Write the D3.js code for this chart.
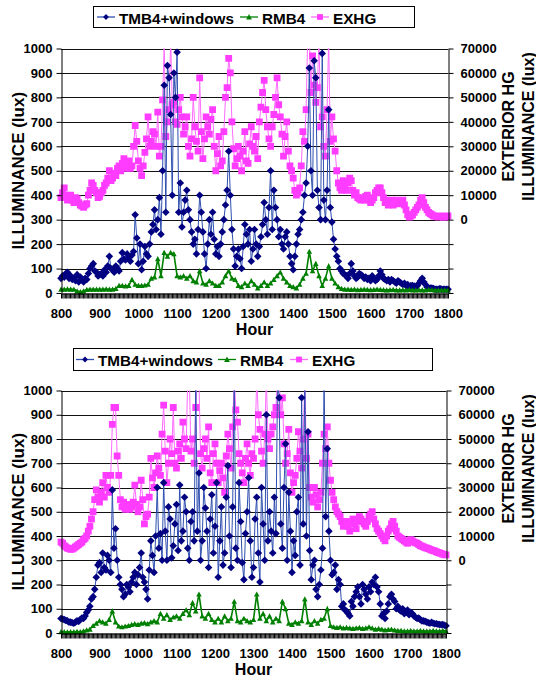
<!DOCTYPE html>
<html><head><meta charset="utf-8">
<script src="https://cdn.jsdelivr.net/npm/d3@7"></script>
<style>
body{margin:0;background:#fff}
svg{display:block;font-family:"Liberation Sans",Arial,sans-serif;font-weight:bold}
</style>
</head><body><svg id="c" width="536" height="677"></svg>
<script>
// ---------- DATA ----------
const fineMinutes = d3.range(0, 600.1, 2.5);   // minutes after 8:00 (TMB4, EXHG samples)
const coarseMinutes = d3.range(0, 600.1, 5);   // minutes after 8:00 (RMB4 samples)
const hourTicks = [800,900,1000,1100,1200,1300,1400,1500,1600,1700,1800];
const leftTicks = [0,100,200,300,400,500,600,700,800,900,1000];
const rightTicks = [-30000,-20000,-10000,0,10000,20000,30000,40000,50000,60000,70000];
const seriesNames = ["TMB4+windows","RMB4","EXHG"];

// top chart
const tmb4Top = [60,70,65,80,85,60,70,55,60,50,75,45,65,55,45,60,55,80,100,110,
 120,90,85,70,75,80,70,95,85,110,150,100,95,85,110,100,90,130,165,140,
 135,160,145,130,155,170,320,225,120,200,95,130,190,160,150,200,250,280,340,260,
 300,390,240,500,850,330,930,880,730,400,900,800,985,330,450,270,330,380,420,340,
 300,250,200,220,160,260,400,330,250,160,100,200,300,240,330,220,160,190,150,200,
 250,300,360,420,580,400,260,180,110,150,180,140,100,190,280,240,200,260,130,180,
 260,200,150,190,230,280,370,300,240,350,500,260,420,350,300,230,260,200,180,230,
 250,200,150,120,95,150,200,240,260,300,330,400,450,600,920,500,400,950,880,420,
 350,300,980,380,300,420,750,350,290,220,180,150,130,100,90,80,75,70,60,80,
 120,90,70,60,65,80,75,70,60,65,55,60,50,70,60,50,55,70,90,75,
 60,55,50,55,45,55,50,45,40,50,45,40,35,40,30,35,25,30,30,28,
 25,30,40,50,60,45,35,25,20,20,20,18,15,15,15,18,15,15,15,15,15];
const rmb4Top = [15,15,16,15,15,8,5,8,14,15,
 15,15,15,15,16,15,15,18,30,30,
 28,30,55,35,30,30,32,35,60,65,
 140,70,165,150,165,160,70,65,70,60,
 70,50,45,90,40,35,50,40,30,30,
 45,70,90,60,55,30,25,40,30,50,
 35,20,30,45,30,40,55,70,85,60,
 45,30,25,20,35,60,80,170,90,120,
 70,30,60,110,60,40,25,18,15,15,
 14,15,13,14,15,14,13,14,15,14,
 13,12,13,14,12,12,13,12,14,12,
 12,13,12,12,14,13,12,12,12,12,12];
const exhgTop = [9000,11000,13000,10000,8000,9500,10000,8000,7000,9000,8500,7000,6000,5500,5000,6000,6500,10000,12000,15000,
 14000,12000,11000,9000,9500,11000,12000,14000,15000,17000,20000,16000,17000,19000,18000,21000,22000,20000,23000,25000,
 21000,23000,24000,21000,22000,30000,38500,32000,24000,21000,18000,22000,27500,33000,42000,30000,32000,36000,35000,30000,
 44000,26000,30000,49000,72000,34000,40000,45000,74000,47000,48000,40000,39000,45000,50000,42000,35000,38000,42000,30000,
 26000,33000,50000,38000,32000,28000,58000,36000,25000,33000,42000,38000,35000,41000,45000,30000,20000,27000,34000,22000,
 24000,36000,50000,54000,66000,60000,40000,29000,22000,25000,30000,26000,20000,28000,36000,24000,23000,31000,38000,30000,
 28000,34000,25000,40000,46000,52000,57000,45000,38000,33000,30000,38000,43000,50000,58000,47000,42000,35000,26000,34000,
 40000,28000,22000,20000,17000,12000,10000,11000,13000,22000,36000,32000,45000,75000,75000,52000,67000,55000,48000,54000,
 75000,38000,42000,30000,26000,45000,74000,32000,42000,33000,28000,20000,15000,13000,12000,16000,14000,12000,15000,17000,
 16000,12000,10000,11000,9000,8500,8000,9000,8000,9500,10000,8000,7000,8000,9000,11000,12000,13000,13000,11000,
 9000,7000,8000,6000,7000,8000,6000,7000,8000,6500,7000,7500,8000,6000,4000,2000,1000,1500,2000,3000,
 4000,5000,6000,8000,9000,7000,5000,4000,3000,2500,2000,1500,1500,1200,1000,1200,1500,1000,1000,1200,1500];

// bottom chart
const tmb4Bottom = [60,58,55,52,50,45,45,42,40,45,50,48,55,62,60,70,85,95,110,140,
 150,180,230,280,290,250,330,270,260,320,300,250,590,350,430,300,230,200,180,150,
 160,200,190,170,210,230,250,200,240,270,330,230,210,180,140,260,380,320,250,400,
 600,350,410,300,620,420,300,520,470,310,360,450,530,340,610,380,420,560,500,350,
 300,460,500,380,1050,420,660,300,380,600,515,420,270,470,570,330,440,620,230,380,
 520,280,330,560,690,400,270,520,1050,350,300,620,460,290,220,410,500,640,380,230,
 270,470,560,330,210,600,450,300,900,380,500,420,330,560,410,1050,970,450,350,600,
 780,300,580,420,250,380,320,500,560,280,970,450,1050,400,830,340,220,280,300,180,
 150,200,260,350,1050,480,760,420,300,240,250,280,180,220,200,110,120,95,90,80,
 70,130,110,150,170,190,150,120,200,180,160,140,190,170,210,200,230,190,170,120,
 70,80,60,90,120,150,160,140,130,100,110,95,90,100,80,85,95,75,85,80,
 70,65,60,62,55,50,50,48,45,42,40,44,40,38,38,36,35,34,35,32,30];
const rmb4Bottom = [5,5,4,5,5,6,5,8,12,15,
 30,40,50,45,40,55,90,45,28,25,
 28,30,35,38,35,40,42,38,45,50,
 45,80,60,75,55,65,70,60,80,95,
 75,125,90,160,70,60,80,55,45,60,
 45,70,50,60,130,50,45,60,50,45,
 55,160,60,80,50,70,45,60,50,130,
 100,40,35,45,40,50,140,45,35,50,
 40,55,60,100,30,25,22,25,20,22,
 20,18,20,22,18,20,25,20,15,18,
 15,12,14,15,12,10,10,8,8,10,
 8,8,10,8,8,8,10,8,8,10,8];
const exhgBottom = [7500,7000,6000,5500,5000,4800,4500,4600,5000,5500,6000,6500,7000,7500,8500,9000,10000,12000,14000,17000,
 20000,25000,29000,26000,24000,28000,32000,26000,35000,30000,28000,35000,56000,63000,63000,43000,35000,25000,22000,24000,
 21000,22000,23000,21000,22000,24000,31000,23000,20000,22000,33000,25000,15000,18000,19000,26000,42000,34000,30000,36000,
 43000,38000,35000,52000,64000,45000,32000,40000,50000,44000,63000,40000,38000,45000,48000,42000,57000,50000,46000,75000,
 75000,45000,50000,40000,63000,75000,74000,44000,38000,46000,50000,42000,55000,36000,32000,44000,48000,40000,32000,37000,
 40000,34000,28000,43000,52000,46000,38000,55000,75000,62000,57000,44000,40000,36000,32000,42000,48000,40000,35000,44000,
 42000,50000,75000,60000,54000,45000,40000,52000,75000,50000,46000,52000,55000,60000,63000,75000,75000,60000,67000,48000,
 40000,44000,54000,36000,28000,32000,35000,42000,53000,45000,38000,50000,75000,42000,52000,30000,26000,24000,30000,27000,
 22000,25000,28000,40000,52000,46000,55000,40000,33000,28000,25000,22000,20000,19000,18000,16000,14000,15000,16000,14000,
 12000,15000,17000,15000,13000,16000,18000,17000,16000,15000,14000,16000,18000,19000,20000,17000,15000,13000,12000,11000,
 10000,9000,8000,10000,12000,13000,15000,16000,14000,12000,10000,9500,9000,8500,8000,7500,7000,8000,8500,8000,
 7500,7200,7000,6500,6000,5800,5500,5200,5000,4800,4500,4200,4000,3800,3500,3200,3000,2800,2500,2300,2200];

// ---------- STYLE / LAYOUT ----------
const styles = [
  {line:"#2f4fb0", lw:1, fill:"#000080", shape:"diamond", s:3.8, times:fineMinutes},
  {line:"#008000", lw:1.6, fill:"#008000", shape:"triangle", s:2.8, times:coarseMinutes},
  {line:"#ff6cff", lw:1, fill:"#ff3cff", shape:"square", s:3.4, times:fineMinutes}
];
const panels = [
  {top:48.5, bottom:293, left:61, right:448, hourY:335,
   legend:{x:93.5, y:6.5, w:321, h:21, items:[97,240,311]},
   series:[tmb4Top, rmb4Top, exhgTop]},
  {top:390.5, bottom:633, left:61, right:446, hourY:675,
   legend:{x:73.5, y:348.5, w:359, h:22, items:[76,218,290]},
   series:[tmb4Bottom, rmb4Bottom, exhgBottom]}
];

function markerPath(shape, s){
  if(shape==="diamond") return `M0,${-s}L${s},0L0,${s}L${-s},0Z`;
  if(shape==="square") return `M${-s},${-s}H${s}V${s}H${-s}Z`;
  return `M0,${-s}L${s},${s*0.85}L${-s},${s*0.85}Z`;
}

const svg = d3.select("#c");
svg.append("rect").attr("width",536).attr("height",677).attr("fill","#fff");

panels.forEach((p, pi) => {
  const g = svg.append("g");
  const x = d3.scaleLinear().domain([0, 600]).range([p.left, p.right]);
  const y = d3.scaleLinear().domain([0, 1000]).range([p.bottom, p.top]);
  const yR = d3.scaleLinear().domain([-30000, 70000]).range([p.bottom, p.top]);

  // gridlines
  g.append("g").selectAll("line").data(leftTicks.filter(d=>d>0)).join("line")
    .attr("x1", p.left).attr("x2", p.right)
    .attr("y1", d => Math.round(y(d))+0.5).attr("y2", d => Math.round(y(d))+0.5)
    .attr("stroke", "#111").attr("stroke-width", 1);

  // clip
  const cid = "clip"+pi;
  svg.append("clipPath").attr("id", cid).append("rect")
    .attr("x", p.left-5).attr("y", p.top).attr("width", p.right-p.left+10).attr("height", p.bottom-p.top+6);
  const plot = g.append("g").attr("clip-path", `url(#${cid})`);

  const order = [2, 0, 1];
  order.forEach(si => {
    const st = styles[si];
    const vals = p.series[si];
    const ys = si === 2 ? yR : y;
    const pts = st.times.map((m, i) => [x(m), ys(vals[i])]).filter(d => isFinite(d[1]));
    plot.append("path").attr("d", d3.line()(pts))
      .attr("fill", "none").attr("stroke", st.line).attr("stroke-width", st.lw);
    plot.append("g").selectAll("path").data(pts).join("path")
      .attr("transform", d => `translate(${d[0]},${d[1]})`)
      .attr("d", markerPath(st.shape, st.s)).attr("fill", st.fill);
  });

  // left axis
  const ax = g.append("g").attr("transform", `translate(${p.left+0.5},0)`)
    .call(d3.axisLeft(y).tickValues(leftTicks).tickSize(5).tickSizeOuter(0).tickPadding(4).tickFormat(d3.format("d")));
  // right axis
  const axR = g.append("g").attr("transform", `translate(${p.right+0.5},0)`)
    .call(d3.axisRight(yR).tickValues(rightTicks).tickSize(5).tickSizeOuter(0).tickPadding(7)
      .tickFormat(d => d >= 0 ? d3.format("d")(d) : ""));
  // bottom dense ticks
  const axB = g.append("g").attr("transform", `translate(0,${p.bottom+0.5})`)
    .call(d3.axisBottom(x).tickValues(d3.range(0, 601, 2)).tickSize(5).tickSizeOuter(0).tickFormat(""));
  const axL = g.append("g").attr("transform", `translate(0,${p.bottom+0.5})`)
    .call(d3.axisBottom(x).tickValues(hourTicks.map(h => (h/100 - 8)*60)).tickSize(0).tickPadding(15)
      .tickFormat((d, i) => hourTicks[i]));
  axL.select(".domain").remove();
  [ax, axR, axB, axL].forEach(a => {
    a.selectAll("text").attr("font-size", 13).attr("font-weight", "bold")
      .attr("font-family", '"Liberation Sans",Arial,sans-serif').attr("fill", "#000");
    a.selectAll("line,path").attr("stroke", "#000");
  });

  // titles
  const cy = (p.top + p.bottom) / 2;
  g.append("text").attr("transform", `translate(24,${cy}) rotate(-90)`)
    .attr("text-anchor", "middle").attr("font-size", 17).text("ILLUMINANCE (lux)");
  const cyR = p.top + 78;
  g.append("text").attr("transform", `translate(514,${cyR}) rotate(-90)`)
    .attr("text-anchor", "middle").attr("font-size", 16).text("EXTERIOR HG");
  g.append("text").attr("transform", `translate(534,${cyR}) rotate(-90)`)
    .attr("text-anchor", "middle").attr("font-size", 16).text("ILLUMINANCE (lux)");
  g.append("text").attr("x", (p.left + p.right)/2).attr("y", p.hourY)
    .attr("text-anchor", "middle").attr("font-size", 16).text("Hour");

  // legend
  const L = p.legend;
  const lg = g.append("g");
  lg.append("rect").attr("x", L.x).attr("y", L.y).attr("width", L.w).attr("height", L.h)
    .attr("fill", "#fff").attr("stroke", "#000").attr("stroke-width", 1);
  const texts = [];
  seriesNames.forEach((name, si) => {
    const st = styles[si];
    const x0 = L.items[si], yy = L.y + L.h/2;
    lg.append("line").attr("x1", x0).attr("x2", x0+18).attr("y1", yy).attr("y2", yy)
      .attr("stroke", st.line).attr("stroke-width", 1.3);
    lg.append("path").attr("transform", `translate(${x0+9},${yy})`).attr("d", markerPath(st.shape, 2.9)).attr("fill", st.fill);
    texts.push(lg.append("text").attr("x", x0+22).attr("y", L.y + 17).attr("font-size", 15).text(name));
  });
  // fit legend font so that the first label spans ~115px as in the reference
  const w0 = texts[0].node().getComputedTextLength();
  if (w0 > 0) {
    const fs = Math.max(13, Math.min(18, 15 * 115 / w0));
    texts.forEach(t => t.attr("font-size", fs));
  }
});
</script>
</body></html>
